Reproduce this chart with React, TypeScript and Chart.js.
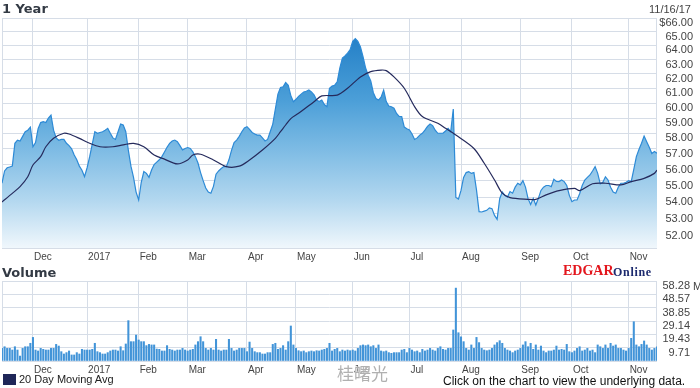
import React, { useEffect, useRef } from 'react';
import { Chart, registerables } from 'chart.js';

Chart.register(...registerables);

// ---- data ----
const monthTickDays = [12, 33, 53, 72, 95, 114, 136, 158, 178, 201, 221, 243];
const monthTickLabels = ['Dec', '2017', 'Feb', 'Mar', 'Apr', 'May', 'Jun', 'Jul', 'Aug', 'Sep', 'Oct', 'Nov'];
const priceTickValues = [52, 53, 54, 55, 56, 57, 58, 59, 60, 61, 62, 63, 64, 65, 66];
const volumeTickValues = [0, 9.71, 19.43, 29.14, 38.85, 48.57, 58.28];

const closePrices = [
  54.84, 55.6, 55.8, 55.85, 55.9, 57.35, 57.55, 57.5, 57.8, 58.1,
  58.2, 58.4, 57.13, 57.4, 58.3, 58.7, 58.76, 58.7, 59.0, 59.2,
  58.2, 57.7, 57.55, 57.6, 57.6, 57.35, 57.2, 57.0, 56.6, 56.3,
  55.9, 55.65, 55.25, 55.8, 56.5, 57.3, 58.1, 58.0, 58.05, 58.1,
  58.2, 58.32, 58.0, 57.7, 57.6, 58.1, 58.6, 58.54, 58.1, 56.9,
  55.9, 55.2, 54.3, 53.82, 54.9, 55.56, 55.45, 55.2, 55.66, 56.0,
  56.15, 56.3, 56.5, 56.8, 57.1, 57.35, 57.5, 57.56, 57.45, 57.2,
  56.92, 57.02, 57.08, 57.02, 56.8, 56.5, 56.1, 55.5, 55.0, 54.55,
  54.3, 54.23, 54.65, 55.4, 55.6, 55.75, 55.87, 55.87, 56.3, 56.9,
  57.4, 57.56, 57.8, 58.1, 58.35, 58.43, 58.25, 58.05, 57.95, 57.88,
  57.88, 57.7, 57.5, 57.6, 58.1, 58.6, 59.6, 60.6, 61.05, 61.1,
  61.4, 61.2, 60.5, 60.09, 60.25, 60.45, 60.6, 60.75, 60.8, 60.88,
  60.75, 60.55, 60.2, 60.1, 60.2, 59.9, 59.76, 61.0, 61.15, 61.21,
  61.44, 62.4, 63.1, 63.25, 63.45, 63.7, 64.3, 64.5, 64.3, 63.9,
  63.2, 62.4, 61.9, 61.5, 60.7, 60.3, 60.2, 60.4, 60.88, 60.1,
  59.8, 59.75, 59.65, 59.3, 59.1, 59.1, 58.4, 58.3, 58.21, 57.95,
  57.6, 57.7, 57.88, 58.0, 58.2, 58.45, 58.6, 58.5, 58.2, 58.0,
  58.0, 58.0, 58.15, 58.32, 58.1, 59.6, 53.97, 53.87, 54.4, 55.2,
  55.5, 55.56, 55.45, 55.5, 54.43, 53.12, 53.1, 53.15, 53.2, 53.35,
  53.3, 52.9, 52.67, 53.9, 54.3, 54.1, 54.0, 54.33, 54.23, 54.6,
  54.84, 54.74, 55.0, 54.6, 53.9, 53.55, 53.92, 53.52, 53.92, 54.4,
  54.6, 54.7, 54.7, 54.63, 55.08, 54.95, 54.94, 55.04, 54.94, 54.7,
  54.1, 53.72, 53.82, 53.82, 54.2, 54.7, 55.04, 55.2, 55.35, 55.6,
  55.87, 55.45, 54.8, 54.9, 55.24, 55.04, 54.6, 54.3, 54.23, 54.6,
  54.84, 54.84, 54.9, 55.0, 54.94, 55.7, 56.5, 56.95, 57.35, 57.82,
  57.45, 57.1, 56.7, 56.82, 56.71,
];

const maDays = [
  0, 4, 7, 10, 12, 15, 17, 20, 24, 26,
  30, 34, 38, 43, 47, 51, 55, 59, 63, 68,
  72, 74, 77, 82, 87, 92, 96, 101, 106, 108,
  110, 112, 115, 121, 124, 130, 134, 139, 143, 147,
  149, 152, 156, 160, 163, 169, 172, 176, 183, 187,
  191, 194, 197, 204, 207, 211, 216, 222, 224, 229,
  234, 240, 244, 249, 253, 254,
];
const maValues = [
  53.7, 54.22, 54.63, 55.24, 55.97, 56.5, 57.13, 57.67, 58.0, 57.95,
  57.67, 57.35, 57.13, 57.13, 57.25, 57.35, 57.13, 56.6, 56.34, 56.04,
  56.29, 56.6, 56.65, 56.29, 55.87, 55.9, 56.29, 56.92, 57.67, 58.1,
  58.54, 58.96, 59.31, 60.09, 60.48, 60.53, 61.0, 61.78, 62.15, 62.26,
  62.22, 61.78, 61.0, 59.76, 59.1, 58.65, 58.32, 57.88, 57.02, 56.08,
  55.04, 54.23, 53.96, 53.86, 53.86, 54.13, 54.39, 54.53, 54.39, 54.81,
  54.84, 54.74, 54.94, 55.14, 55.45, 55.66,
];

const volumesM = [
  9.2, 10.4, 9.2, 9.2, 8.0, 10.4, 8.0, 3.6, 9.2, 10.4,
  10.4, 12.9, 17.2, 8.0, 7.3, 9.2, 8.5, 8.0, 8.0, 9.2,
  9.2, 12.1, 10.9, 6.8, 5.1, 6.1, 7.3, 4.4, 4.4, 6.1,
  5.1, 8.5, 8.0, 8.0, 8.0, 8.5, 12.9, 6.8, 6.1, 5.1,
  5.1, 6.1, 7.3, 8.0, 8.0, 7.3, 10.4, 7.5, 12.4, 29.4,
  14.1, 14.1, 18.9, 15.3, 14.1, 14.1, 11.2, 12.1, 11.7, 11.7,
  8.7, 8.5, 7.3, 7.3, 11.2, 8.5, 8.0, 7.3, 8.0, 8.0,
  9.2, 8.0, 7.3, 8.0, 8.5, 11.7, 14.1, 17.7, 14.1, 9.2,
  8.0, 9.2, 8.0, 15.8, 8.0, 7.3, 8.0, 8.0, 15.8, 9.2,
  7.3, 8.0, 9.2, 9.2, 9.2, 6.8, 13.8, 9.2, 6.8, 6.1,
  6.1, 5.1, 5.1, 6.1, 6.1, 12.1, 12.9, 8.5, 9.2, 11.2,
  8.0, 14.1, 25.5, 11.7, 9.2, 7.5, 6.8, 7.3, 6.1, 6.8,
  7.3, 6.8, 7.5, 7.3, 8.0, 8.5, 9.2, 12.9, 7.3, 8.5,
  9.2, 6.8, 8.0, 7.3, 8.0, 7.5, 8.0, 7.3, 9.2, 11.2,
  11.7, 11.2, 11.7, 10.4, 11.2, 9.2, 11.7, 7.3, 6.8, 7.3,
  6.1, 5.6, 6.1, 6.1, 6.1, 8.0, 8.5, 6.1, 9.2, 8.0,
  6.8, 7.3, 6.1, 8.5, 7.3, 8.0, 9.2, 8.0, 7.3, 9.2,
  10.4, 8.5, 8.0, 9.2, 9.2, 22.6, 53.1, 20.6, 17.6, 14.1,
  9.2, 8.0, 11.7, 9.2, 17.2, 13.4, 9.2, 8.0, 7.5, 8.0,
  9.2, 11.7, 13.4, 14.8, 12.9, 9.2, 8.0, 7.3, 6.1, 7.3,
  8.0, 9.2, 11.7, 14.1, 10.4, 12.9, 8.5, 11.7, 8.0, 10.9,
  7.3, 6.1, 7.3, 7.3, 8.0, 10.9, 8.0, 8.5, 8.0, 12.1,
  6.8, 6.1, 7.3, 9.2, 10.4, 7.3, 8.0, 9.2, 7.3, 8.0,
  6.1, 11.7, 10.4, 9.2, 11.7, 9.2, 12.9, 10.9, 11.7, 9.2,
  9.2, 8.0, 7.3, 9.2, 16.5, 28.6, 11.7, 10.4, 12.1, 14.6,
  11.7, 9.2, 8.0, 9.2, 10.4,
];

// ---- styles ----
const GRID = '#d6dde7';
const AXIS_TEXT = '#444444';
const SANS = '"Liberation Sans", Arial, Helvetica, sans-serif';
const BOLD_TITLE = '"DejaVu Sans", Verdana, sans-serif';

const framePlugin = {
  id: 'frame',
  beforeDatasetsDraw(chart: any) {
    const { ctx, chartArea: a } = chart;
    ctx.save();
    ctx.strokeStyle = GRID;
    ctx.lineWidth = 1;
    ctx.strokeRect(Math.round(a.left) + 0.5, Math.round(a.top) + 0.5, Math.round(a.right - a.left) - 1, Math.round(a.bottom - a.top));
    ctx.restore();
  },
};

const monthAxis = (height: number, padding: number) => ({
  type: 'linear',
  min: 0,
  max: closePrices.length - 1,
  offset: false,
  afterBuildTicks: (s: any) => {
    s.ticks = monthTickDays.map((v) => ({ value: v }));
  },
  afterFit: (s: any) => {
    s.height = height;
  },
  grid: { color: GRID, drawTicks: false, offset: false, lineWidth: 1 },
  border: { display: false },
  ticks: {
    autoSkip: false,
    maxRotation: 0,
    minRotation: 0,
    align: 'start',
    labelOffset: 1,
    padding,
    color: AXIS_TEXT,
    font: { size: 10, family: SANS },
    callback: (_v: any, i: number) => monthTickLabels[i],
  },
});

export default function App() {
  const priceRef = useRef<HTMLCanvasElement>(null);
  const volRef = useRef<HTMLCanvasElement>(null);

  useEffect(() => {
    Chart.defaults.font.family = SANS;
    const priceChart = new Chart(priceRef.current as HTMLCanvasElement, {
      type: 'line',
      data: {
        datasets: [
          {
            label: '20 Day Moving Avg',
            data: maDays.map((d, i) => ({ x: d, y: maValues[i] })),
            borderColor: '#252a5c',
            borderWidth: 1.2,
            pointRadius: 0,
            fill: false,
            tension: 0.3,
          },
          {
            label: 'Price',
            data: closePrices.map((p, i) => ({ x: i, y: p })),
            borderColor: '#2d8ad6',
            borderWidth: 1.2,
            pointRadius: 0,
            tension: 0,
            fill: 'start',
            backgroundColor: (c: any) => {
              const chart = c.chart;
              const a = chart.chartArea;
              if (!a) return 'rgba(0,0,0,0)';
              const g = chart.ctx.createLinearGradient(0, a.top, 0, a.bottom);
              g.addColorStop(0, '#1877c2');
              g.addColorStop(0.36, '#4c9fd8');
              g.addColorStop(0.57, '#7dbbe4');
              g.addColorStop(0.79, '#b2d7ef');
              g.addColorStop(1, '#f0f7fc');
              return g;
            },
          },
        ],
      },
      options: {
        animation: false,
        responsive: false,
        events: [],
        layout: { padding: { top: 18, left: 2, right: 7, bottom: 0 } },
        plugins: { legend: { display: false }, tooltip: { enabled: false } },
        scales: {
          x: monthAxis(16, 3) as any,
          y: {
            type: 'logarithmic',
            position: 'right',
            min: 51,
            max: 66,
            afterBuildTicks: (s: any) => {
              s.ticks = priceTickValues.map((v) => ({ value: v }));
            },
            afterFit: (s: any) => {
              s.width = 36;
            },
            grid: { color: GRID, drawTicks: false, lineWidth: 1 },
            border: { display: false },
            ticks: {
              autoSkip: false,
              crossAlign: 'far',
              padding: 2,
              labelOffset: 5,
              color: AXIS_TEXT,
              font: { size: 11, family: SANS },
              callback: (v: any) => (Number(v) === 66 ? '$66.00' : Number(v).toFixed(2)),
            },
          } as any,
        },
      },
      plugins: [framePlugin],
    });

    const volumeChart = new Chart(volRef.current as HTMLCanvasElement, {
      type: 'bar',
      data: {
        datasets: [
          {
            label: 'Volume',
            data: volumesM.map((v, i) => ({ x: i, y: v })),
            backgroundColor: '#4294d8',
            borderWidth: 0,
            barThickness: 1.4,
          },
        ],
      },
      options: {
        animation: false,
        responsive: false,
        events: [],
        layout: { padding: { top: 13, left: 2, right: 10, bottom: 0 } },
        plugins: { legend: { display: false }, tooltip: { enabled: false } },
        scales: {
          x: monthAxis(15, 3) as any,
          y: {
            type: 'linear',
            position: 'right',
            min: 0,
            max: 58.28,
            afterBuildTicks: (s: any) => {
              s.ticks = volumeTickValues.map((v) => ({ value: v }));
            },
            afterFit: (s: any) => {
              s.width = 33;
            },
            grid: { color: GRID, drawTicks: false, lineWidth: 1 },
            border: { display: false },
            ticks: {
              autoSkip: false,
              crossAlign: 'far',
              padding: 2,
              labelOffset: 5,
              color: AXIS_TEXT,
              font: { size: 11, family: SANS },
              callback: (v: any) => (Number(v) === 0 ? '' : Number(v).toFixed(2)),
            },
          } as any,
        },
      },
      plugins: [framePlugin],
    });

    return () => {
      priceChart.destroy();
      volumeChart.destroy();
    };
  }, []);

  const abs = (extra: React.CSSProperties): React.CSSProperties => ({
    position: 'absolute',
    lineHeight: 1,
    whiteSpace: 'nowrap',
    margin: 0,
    ...extra,
  });

  return (
    <div style={{ position: 'absolute', left: 0, top: 0, width: 700, height: 388, background: '#ffffff', overflow: 'hidden', fontFamily: SANS }}>
      <canvas ref={priceRef} width={700} height={264} style={{ position: 'absolute', left: 0, top: 0, width: 700, height: 264 }} />
      <canvas ref={volRef} width={700} height={108} style={{ position: 'absolute', left: 0, top: 268, width: 700, height: 108 }} />

      <div style={abs({ left: 2, top: 2, fontFamily: BOLD_TITLE, fontWeight: 700, fontSize: 13, color: '#333a44' })}>1 Year</div>
      <div style={abs({ right: 9, top: 4, fontSize: 11, color: '#444' })}>11/16/17</div>
      <div style={abs({ left: 2, top: 266, fontFamily: BOLD_TITLE, fontWeight: 700, fontSize: 13, color: '#333a44' })}>Volume</div>

      <div style={abs({ left: 563, top: 264, fontFamily: '"Liberation Serif", "Times New Roman", serif', fontWeight: 700, fontSize: 14, color: '#e3151c' })}>EDGAR</div>
      <div style={abs({ left: 613, top: 266, fontFamily: '"Liberation Serif", "Times New Roman", serif', fontWeight: 700, fontSize: 12, letterSpacing: 0.7, color: '#1c2a6e' })}>Online</div>

      <div style={abs({ left: 693, top: 281, fontSize: 11, color: AXIS_TEXT })}>M</div>

      <div style={abs({ left: 3, top: 374, width: 13, height: 11, background: '#1f2658' })} />
      <div style={abs({ left: 19, top: 374, fontSize: 11, color: '#222' })}>20 Day Moving Avg</div>
      <div style={abs({ left: 443, top: 375, fontSize: 12, color: '#111' })}>Click on the chart to view the underlying data.</div>

      <div
        style={abs({
          left: 337,
          top: 364,
          fontFamily: '"Noto Sans CJK SC", sans-serif',
          fontSize: 17,
          color: 'rgba(150,150,150,0.75)',
          textShadow: '0 0 2px #fff, 0 0 1px #fff',
        })}
      >
        桂曙光
      </div>
    </div>
  );
}
